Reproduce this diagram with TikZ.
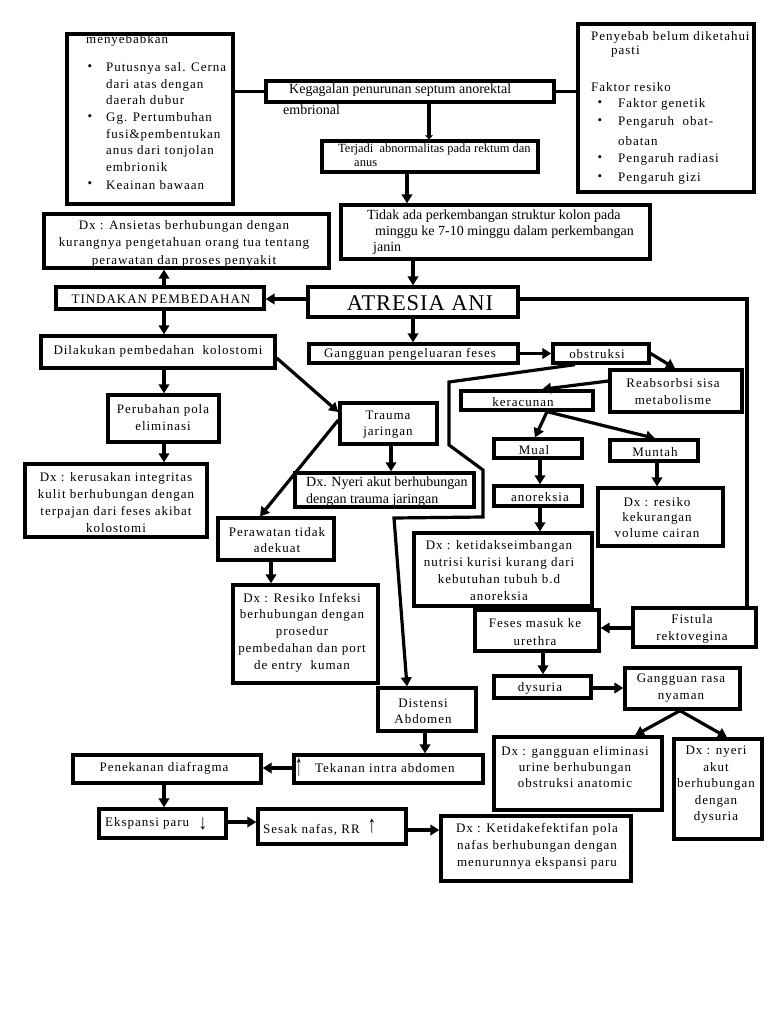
\documentclass[tikz,border=0pt]{standalone}
\usepackage{fontspec}
\usepackage{graphicx}
\setmainfont{Liberation Serif}
\newfontfamily\spf[LetterSpace=7.5]{Liberation Serif}
\newfontfamily\spfb[LetterSpace=4]{Liberation Serif}
\usetikzlibrary{arrows.meta}
\newcommand\fsp[2]{\spf\fontsize{#1}{#2}\selectfont}
\newcommand\ftg[2]{\rmfamily\fontsize{#1}{#2}\selectfont}
\newcommand\bx[5]{\node[box, minimum width={(#4-#2-2)*1pt}, minimum height={(#5-#3-2)*1pt}] (#1) at ({(#2+#4)/2},{(#3+#5)/2}) {};}
\begin{document}
\begin{tikzpicture}[x=1pt,y=-1pt,
  box/.style={draw, line width=3.3pt, inner sep=0pt},
  ln/.style={line width=3.2pt},
  arr/.style={line width=3.2pt, -{Triangle[length=9pt,width=10.5pt]}},
  sp/.style={inner sep=0pt, align=center, font=\fsp{13}{#1}},
  sp/.default=16.5,
  tg/.style={inner sep=0pt, align=left, anchor=west, font=\ftg{14}{#1}},
  tg/.default=16.5,
  lf/.style={sp, anchor=west, align=left}]
\path[fill=white, use as bounding box] (0,0) rectangle (768,1024);

% ---------- boxes ----------
\bx{cause}{66}{33}{234}{205}
\bx{keg}{265}{80}{555}{103}
\bx{fak}{577}{23}{755}{193}
\bx{ter}{321}{140}{539}{173}
\bx{tid}{340}{204}{651}{260}
\bx{ans}{43}{213}{330}{269}
\bx{tind}{55}{286}{265}{310}
\bx{atr}{307}{286}{519}{318}
\bx{gang}{308}{343}{519}{364}
\bx{obs}{552}{343}{650}{364}
\bx{reab}{609}{369}{743}{413}
\bx{ker}{460}{390}{594}{411}
\bx{mual}{493}{438}{583}{459}
\bx{munt}{609}{439}{699}{462}
\bx{anor}{493}{485}{583}{507}
\bx{dxket}{413}{532}{593}{607}
\bx{dxres}{597}{487}{724}{547}
\bx{dil}{40}{335}{276}{369}
\bx{peru}{107}{394}{220}{443}
\bx{dxker}{24}{463}{208}{538}
\bx{trau}{339}{402}{438}{445}
\bx{dxny}{294}{472}{475}{508}
\bx{perw}{217}{517}{335}{561}
\bx{dxinf}{232}{584}{379}{684}
\bx{dist}{377}{687}{477}{732}
\bx{tek}{293}{754}{484}{784}
\bx{pen}{72}{754}{262}{784}
\bx{eks}{98}{808}{227}{839}
\bx{ses}{257}{808}{407}{845}
\bx{dxpol}{440}{815}{632}{882}
\bx{fis}{632}{607}{757}{648}
\bx{fes}{474}{609}{600}{652}
\bx{dys}{493}{675}{592}{699}
\bx{grn}{624}{667}{741}{710}
\bx{dxel}{493}{736}{663}{811}
\bx{dxna}{673}{738}{763}{840}

% ---------- texts ----------
\node[lf] (c0) at (86,40) {menyebabkan};
\node[sp] (cb1) at (90,68) {•};
\node[sp] (cb2) at (90,118) {•};
\node[sp] (cb3) at (90,185) {•};
\node[lf] (c1) at (106,68) {Putusnya sal. Cerna};
\node[lf] (c2) at (106,85) {dari atas dengan};
\node[lf] (c3) at (106,100) {daerah dubur};
\node[lf] (c4) at (106,118) {Gg. Pertumbuhan};
\node[lf] (c5) at (106,135) {fusi\&pembentukan};
\node[lf] (c6) at (106,151) {anus dari tonjolan};
\node[lf] (c7) at (106,167) {embrionik};
\node[lf] (c8) at (106,185) {Keainan bawaan};

\node[lf] (f0) at (591,37) {Penyebab belum diketahui};
\node[lf] (f1) at (611,52) {pasti};
\node[lf] (f2) at (591,87) {Faktor resiko};
\node[sp] (fb1) at (600,104) {•};
\node[sp] (fb2) at (600,122) {•};
\node[sp] (fb3) at (600,159) {•};
\node[sp] (fb4) at (600,178) {•};
\node[lf] (f3) at (618,104) {Faktor genetik};
\node[lf] (f4) at (618,122) {Pengaruh\ \ obat-};
\node[lf] (f5) at (618,141) {obatan};
\node[lf] (f6) at (618,159) {Pengaruh radiasi};
\node[lf] (f7) at (618,178) {Pengaruh gizi};

\node[tg] (tkeg) at (289,90) {Kegagalan penurunan septum anorektal};
\node[tg] (tkeg2) at (283,110) {embrional};
\node[inner sep=0pt, anchor=west, align=left, font=\ftg{12.5}{14}] (tter) at (338,155) {Terjadi\ \ abnormalitas pada rektum dan\\\hspace*{16pt}anus};
\node[tg=16.3] (ttid) at (367,232) {Tidak ada perkembangan struktur kolon pada\\\hspace*{8pt}minggu ke 7-10 minggu dalam perkembangan\\\hspace*{6pt}janin};

\node[sp=17.5] (tans) at (184,243.5) {Dx : Ansietas berhubungan dengan\\kurangnya pengetahuan orang tua tentang\\perawatan dan proses penyakit};
\node[sp] (ttind) at (161,299) {TINDAKAN PEMBEDAHAN};
\node[inner sep=0pt, font=\spfb\fontsize{22.5}{24}\selectfont] (tatr) at (420,303) {ATRESIA ANI};
\node[sp] (tdil) at (158,351) {Dilakukan pembedahan~ kolostomi};
\node[sp] (tgang) at (410,354) {Gangguan pengeluaran feses};
\node[sp] (tobs) at (597,354) {obstruksi};
\node[sp=17] (treab) at (673,391.5) {Reabsorbsi sisa\\metabolisme};
\node[sp] (tker) at (523,402) {keracunan};
\node[sp] (tmual) at (534,450) {Mual};
\node[sp] (tmunt) at (655,452) {Muntah};
\node[sp] (tanor) at (540,497) {anoreksia};
\node[sp=17] (tdxket) at (499,570.5) {Dx : ketidakseimbangan\\nutrisi kurisi kurang dari\\kebutuhan tubuh b.d\\anoreksia};
\node[sp=15.5] (tdxres) at (657,517.5) {Dx : resiko\\kekurangan\\volume cairan};
\node[sp=16] (ttrau) at (388,425) {Trauma\\jaringan};
\node[tg=17] (tdxny) at (306,491.5) {Dx. Nyeri akut berhubungan\\dengan trauma jaringan};
\node[sp=17] (tperu) at (163,417.5) {Perubahan pola\\eliminasi};
\node[sp=17] (tdxker) at (116,502.5) {Dx : kerusakan integritas\\kulit berhubungan dengan\\terpajan dari feses akibat\\kolostomi};
\node[sp=16] (tperw) at (277,540) {Perawatan tidak\\adekuat};
\node[sp=16.8] (tdxinf) at (302,632.5) {Dx : Resiko Infeksi\\berhubungan dengan\\prosedur\\pembedahan dan port\\de entry\ \ kuman};
\node[sp=16] (tdist) at (423,711) {Distensi\\Abdomen};
\node[inner sep=0pt, font=\rmfamily\fontsize{19}{20}\selectfont] (atek) at (299,767) {\scalebox{0.8}[1.6]{↑}};
\node[lf] (ttek) at (315,768) {Tekanan intra abdomen};
\node[sp] (tpen) at (164,768) {Penekanan diafragma};
\node[lf] (teks) at (105,823) {Ekspansi paru};
\node[inner sep=0pt, font=\rmfamily\bfseries\fontsize{19}{20}\selectfont] (aeks) at (203,824) {\scalebox{0.9}[1.1]{↓}};
\node[lf] (tses) at (263,830) {Sesak nafas, RR};
\node[inner sep=0pt, font=\rmfamily\bfseries\fontsize{19}{20}\selectfont] (ases) at (372,826) {\scalebox{0.9}[1.25]{↑}};
\node[sp=17] (tdxpol) at (537,846) {Dx : Ketidakefektifan pola\\nafas berhubungan dengan\\menurunnya ekspansi paru};
\node[sp=17] (tfis) at (692,628.5) {Fistula\\rektovegina};
\node[sp=18] (tfes) at (535,632) {Feses masuk ke\\urethra};
\node[sp] (tdys) at (540,688) {dysuria};
\node[sp=17] (tgrn) at (681,688.5) {Gangguan rasa\\nyaman};
\node[sp=16] (tdxel) at (575,767) {Dx : gangguan eliminasi\\urine berhubungan\\obstruksi anatomic};
\node[sp=16.5] (tdxna) at (716,785) {Dx : nyeri\\akut\\berhubungan\\dengan\\dysuria};

% ---------- connectors ----------
\draw[ln] (cause.east |- keg.west) -- (keg.west);
\draw[ln] (keg.east) -- (keg.east -| fak.west);
\draw[line width=3.2pt, -{Triangle[length=4pt,width=8pt]}] (keg.south -| 429,0) -- (ter.north -| 429,0);
\draw[arr] (ter.south -| 407,0) -- (tid.north -| 407,0);
\draw[arr] (atr.north |- tid.south) -- (atr.north);
\draw[arr] (atr.west |- 0,299) -- (tind.east |- 0,299);
\draw[arr] (tind.north -| 164,0) -- (ans.south -| 164,0);
\draw[arr] (tind.south -| 164,0) -- (dil.north -| 164,0);
\draw[arr] (dil.south -| 164,0) -- (peru.north -| 164,0);
\draw[arr] (peru.south -| 164,0) -- (dxker.north -| 164,0);
\draw[arr] (atr.south) -- (atr.south |- gang.north);
\draw[arr] (gang.east) -- (gang.east -| obs.west);
\draw[arr] (obs.east) -- (reab.north -| 675,0);
\draw[arr] (reab.west |- 0,381) -- (ker.north -| 542,0);
\draw[arr] (ker.south -| 547,0) -- (mual.north -| 535,0);
\draw[arr] (ker.south -| 547,0) -- (munt.north -| 655,0);
\draw[arr] (mual.south -| 540,0) -- (anor.north -| 540,0);
\draw[arr] (anor.south -| 540,0) -- (dxket.north -| 540,0);
\draw[arr] (munt.south -| 657,0) -- (dxres.north -| 657,0);
\draw[arr] (dil.east |- 0,358) -- (trau.west |- 0,412);
\draw[arr] (trau.west |- 0,420) -- (perw.north -| 260,0);
\draw[arr] (trau.south -| 391,0) -- (dxny.north -| 391,0);
\draw[arr] (perw.south -| 271,0) -- (dxinf.north -| 271,0);
\draw[arr] (obs.south -| 575,0) -- (449,382) -- (449,445) -- (483,470) -- (483,517) -- (394,518) -- (dist.north -| 407,0);
\draw[ln] (atr.east |- 0,299) -- (747,299) -- (fis.north -| 747,0);
\draw[arr] (fis.west |- 0,628) -- (fes.east |- 0,628);
\draw[arr] (fes.south -| 543,0) -- (dys.north -| 543,0);
\draw[arr] (dys.east |- 0,688) -- (grn.west |- 0,688);
\draw[arr] (grn.south -| 680,0) -- (dxel.north -| 635,0);
\draw[arr] (grn.south -| 680,0) -- (dxna.north -| 727,0);
\draw[arr] (dist.south -| 425,0) -- (tek.north -| 425,0);
\draw[arr] (tek.west |- 0,768) -- (pen.east |- 0,768);
\draw[arr] (pen.south -| 164,0) -- (eks.north -| 164,0);
\draw[arr] (eks.east |- 0,822) -- (ses.west |- 0,822);
\draw[arr] (ses.east |- 0,830) -- (dxpol.west |- 0,830);
\end{tikzpicture}
\end{document}
